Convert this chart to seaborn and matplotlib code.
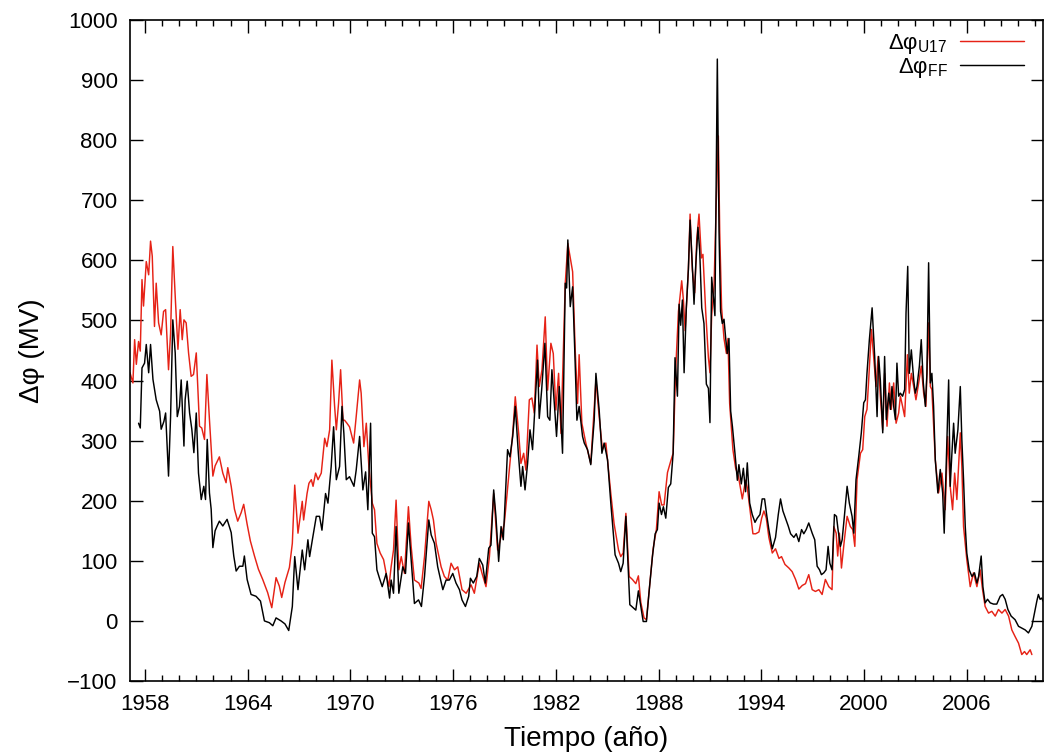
import matplotlib
matplotlib.use("Agg")
import matplotlib.pyplot as plt
import pandas as pd
import seaborn as sns
from matplotlib.ticker import MultipleLocator, FixedLocator

# ---------------- data ----------------
u17_years = [
    1957.13, 1957.30, 1957.40, 1957.50, 1957.63, 1957.73, 1957.83, 1957.92, 1958.08, 1958.22,
    1958.33, 1958.43, 1958.56, 1958.66, 1958.80, 1958.95, 1959.09, 1959.21, 1959.38, 1959.50,
    1959.63, 1959.79, 1959.93, 1960.06, 1960.18, 1960.28, 1960.41, 1960.55, 1960.70, 1960.84,
    1961.00, 1961.09, 1961.19, 1961.32, 1961.48, 1961.62, 1961.77, 1961.97, 1962.10, 1962.35,
    1962.55, 1962.74, 1962.84, 1963.04, 1963.23, 1963.42, 1963.62, 1963.77, 1963.97, 1964.16,
    1964.40, 1964.63, 1964.88, 1965.17, 1965.41, 1965.66, 1965.85, 1965.99, 1966.18, 1966.44,
    1966.61, 1966.75, 1966.94, 1967.19, 1967.27, 1967.47, 1967.58, 1967.72, 1967.82, 1967.97,
    1968.11, 1968.30, 1968.50, 1968.63, 1968.79, 1968.92, 1969.08, 1969.18, 1969.31, 1969.43,
    1969.57, 1969.66, 1969.80, 1969.95, 1970.19, 1970.34, 1970.54, 1970.63, 1970.79, 1970.93,
    1971.08, 1971.28, 1971.41, 1971.55, 1971.74, 1971.94, 1972.09, 1972.25, 1972.38, 1972.52,
    1972.67, 1972.83, 1972.97, 1973.16, 1973.39, 1973.55, 1973.74, 1974.00, 1974.13, 1974.33,
    1974.58, 1974.72, 1974.85, 1975.01, 1975.30, 1975.49, 1975.69, 1975.88, 1976.08, 1976.27,
    1976.52, 1976.76, 1977.05, 1977.24, 1977.53, 1977.69, 1977.92, 1978.12, 1978.37, 1978.60,
    1978.80, 1978.99, 1979.28, 1979.48, 1979.63, 1979.83, 1979.96, 1980.12, 1980.25, 1980.45,
    1980.60, 1980.74, 1980.90, 1981.03, 1981.19, 1981.38, 1981.52, 1981.71, 1981.85, 1982.00,
    1982.16, 1982.30, 1982.55, 1982.70, 1982.98, 1983.13, 1983.27, 1983.36, 1983.52, 1983.75,
    1984.04, 1984.34, 1984.53, 1984.72, 1984.92, 1985.21, 1985.40, 1985.66, 1985.79, 1985.93,
    1986.09, 1986.28, 1986.47, 1986.67, 1986.82, 1986.96, 1987.15, 1987.29, 1987.49, 1987.68,
    1987.87, 1988.03, 1988.18, 1988.32, 1988.52, 1988.71, 1988.85, 1989.00, 1989.16, 1989.35,
    1989.45, 1989.55, 1989.74, 1989.84, 1989.97, 1990.11, 1990.23, 1990.36, 1990.50, 1990.59,
    1990.75, 1990.91, 1991.00, 1991.10, 1991.24, 1991.37, 1991.49, 1991.57, 1991.68, 1991.82,
    1991.96, 1992.05, 1992.15, 1992.34, 1992.50, 1992.66, 1992.89, 1993.08, 1993.18, 1993.37,
    1993.51, 1993.67, 1993.86, 1994.02, 1994.15, 1994.29, 1994.44, 1994.64, 1994.83, 1995.03,
    1995.18, 1995.38, 1995.61, 1995.80, 1996.00, 1996.19, 1996.39, 1996.58, 1996.77, 1996.97,
    1997.16, 1997.36, 1997.55, 1997.74, 1997.94, 1998.13, 1998.23, 1998.37, 1998.46, 1998.56,
    1998.68, 1998.85, 1999.01, 1999.20, 1999.34, 1999.46, 1999.59, 1999.79, 1999.92, 2000.04,
    2000.17, 2000.27, 2000.43, 2000.56, 2000.70, 2000.82, 2000.95, 2001.09, 2001.20, 2001.34,
    2001.48, 2001.59, 2001.73, 2001.87, 2002.02, 2002.12, 2002.25, 2002.37, 2002.53, 2002.64,
    2002.76, 2002.90, 2003.03, 2003.19, 2003.34, 2003.48, 2003.61, 2003.77, 2003.87, 2003.96,
    2004.16, 2004.35, 2004.55, 2004.74, 2004.88, 2005.03, 2005.17, 2005.29, 2005.42, 2005.62,
    2005.71, 2005.81, 2006.00, 2006.20, 2006.39, 2006.59, 2006.78, 2006.92, 2007.07, 2007.27,
    2007.46, 2007.66, 2007.85, 2008.05, 2008.24, 2008.44, 2008.63, 2008.82, 2009.02, 2009.21,
    2009.37, 2009.50, 2009.70, 2009.80,
]
u17_values = [
    413, 396, 468, 427, 465, 449, 568, 524, 598, 576,
    632, 607, 490, 562, 496, 476, 515, 518, 418, 479,
    623, 529, 452, 518, 468, 501, 496, 446, 407, 410,
    446, 390, 324, 321, 302, 410, 335, 241, 258, 273,
    246, 230, 255, 224, 186, 166, 180, 194, 161, 133,
    108, 86, 69, 47, 22, 72, 58, 39, 64, 89,
    129, 226, 146, 199, 168, 212, 229, 235, 224, 246,
    235, 246, 304, 290, 318, 434, 357, 318, 362, 418,
    334, 334, 329, 323, 296, 340, 401, 379, 290, 329,
    257, 196, 185, 129, 113, 102, 79, 57, 90, 118,
    201, 85, 107, 79, 190, 124, 68, 63, 54, 107,
    199, 185, 168, 129, 90, 74, 68, 96, 85, 90,
    52, 46, 60, 46, 96, 79, 57, 107, 212, 118,
    140, 162, 251, 312, 373, 312, 262, 279, 251, 368,
    371, 346, 459, 390, 418, 506, 384, 462, 445, 351,
    412, 312, 562, 628, 581, 451, 362, 443, 329, 296,
    262, 401, 340, 285, 296, 212, 162, 118, 107, 113,
    179, 74, 69, 62, 75, 31, 5, 2, 62, 120,
    152, 215, 193, 193, 247, 266, 279, 419, 515, 566,
    534, 483, 585, 677, 585, 546, 636, 677, 604, 610,
    515, 438, 413, 508, 559, 699, 807, 648, 521, 470,
    445, 470, 362, 285, 254, 241, 203, 234, 222, 177,
    145, 145, 148, 171, 183, 171, 139, 113, 120, 104,
    107, 94, 88, 82, 69, 53, 59, 62, 77, 52,
    49, 52, 44, 69, 57, 52, 157, 146, 108, 146,
    88, 135, 174, 157, 152, 124, 235, 279, 285, 340,
    352, 401, 485, 440, 390, 440, 374, 318, 412, 324,
    396, 352, 396, 329, 346, 374, 357, 340, 443, 379,
    412, 390, 368, 396, 424, 379, 357, 496, 390, 385,
    268, 213, 246, 185, 307, 224, 185, 246, 202, 313,
    257, 157, 102, 57, 80, 57, 85, 52, 24, 13,
    16, 8, 19, 13, 19, 8, -15, -26, -37, -56,
    -51, -56, -48, -56,
]

ff_years = [
    1957.63, 1957.73, 1957.83, 1957.98, 1958.08, 1958.22, 1958.33, 1958.47, 1958.66, 1958.86,
    1958.95, 1959.11, 1959.21, 1959.38, 1959.50, 1959.63, 1959.77, 1959.89, 1960.02, 1960.12,
    1960.28, 1960.35, 1960.47, 1960.61, 1960.74, 1960.86, 1961.00, 1961.13, 1961.29, 1961.44,
    1961.54, 1961.64, 1961.77, 1961.87, 1961.97, 1962.10, 1962.22, 1962.35, 1962.55, 1962.80,
    1963.04, 1963.19, 1963.33, 1963.52, 1963.72, 1963.81, 1963.97, 1964.20, 1964.49, 1964.75,
    1964.98, 1965.27, 1965.47, 1965.66, 1965.95, 1966.18, 1966.40, 1966.61, 1966.75, 1966.94,
    1967.19, 1967.33, 1967.52, 1967.62, 1967.78, 1968.01, 1968.20, 1968.34, 1968.55, 1968.69,
    1968.88, 1969.02, 1969.18, 1969.37, 1969.51, 1969.62, 1969.76, 1969.95, 1970.21, 1970.34,
    1970.54, 1970.73, 1970.89, 1971.02, 1971.18, 1971.28, 1971.41, 1971.55, 1971.70, 1971.86,
    1972.09, 1972.29, 1972.38, 1972.52, 1972.67, 1972.83, 1973.06, 1973.22, 1973.39, 1973.55,
    1973.74, 1973.98, 1974.15, 1974.33, 1974.58, 1974.72, 1974.91, 1975.10, 1975.40, 1975.59,
    1975.78, 1975.98, 1976.17, 1976.37, 1976.52, 1976.72, 1976.91, 1977.01, 1977.18, 1977.38,
    1977.53, 1977.73, 1977.88, 1978.08, 1978.21, 1978.37, 1978.50, 1978.66, 1978.80, 1978.93,
    1979.18, 1979.32, 1979.48, 1979.63, 1979.81, 1979.96, 1980.06, 1980.20, 1980.35, 1980.49,
    1980.64, 1980.84, 1980.93, 1981.03, 1981.17, 1981.36, 1981.52, 1981.65, 1981.77, 1981.91,
    1982.04, 1982.20, 1982.39, 1982.55, 1982.63, 1982.70, 1982.84, 1982.98, 1983.11, 1983.23,
    1983.36, 1983.56, 1983.66, 1983.85, 1984.04, 1984.24, 1984.34, 1984.53, 1984.69, 1984.82,
    1985.02, 1985.21, 1985.46, 1985.66, 1985.79, 1985.93, 1986.09, 1986.32, 1986.67, 1986.82,
    1986.96, 1987.10, 1987.29, 1987.45, 1987.64, 1987.80, 1987.93, 1988.03, 1988.17, 1988.28,
    1988.42, 1988.57, 1988.71, 1988.85, 1988.96, 1989.10, 1989.20, 1989.29, 1989.39, 1989.49,
    1989.62, 1989.74, 1989.84, 1989.97, 1990.07, 1990.17, 1990.30, 1990.40, 1990.52, 1990.65,
    1990.79, 1990.91, 1991.00, 1991.10, 1991.18, 1991.29, 1991.37, 1991.43, 1991.53, 1991.62,
    1991.72, 1991.82, 1991.92, 1992.01, 1992.11, 1992.21, 1992.31, 1992.46, 1992.60, 1992.69,
    1992.83, 1992.95, 1993.08, 1993.18, 1993.32, 1993.47, 1993.63, 1993.76, 1993.92, 1994.05,
    1994.19, 1994.31, 1994.44, 1994.64, 1994.83, 1994.99, 1995.12, 1995.26, 1995.41, 1995.57,
    1995.71, 1995.90, 1996.04, 1996.19, 1996.35, 1996.48, 1996.62, 1996.77, 1996.97, 1997.12,
    1997.26, 1997.40, 1997.51, 1997.65, 1997.78, 1997.90, 1998.00, 1998.13, 1998.27, 1998.39,
    1998.48, 1998.62, 1998.72, 1998.85, 1999.01, 1999.14, 1999.30, 1999.40, 1999.53, 1999.69,
    1999.84, 1999.98, 2000.08, 2000.17, 2000.31, 2000.47, 2000.62, 2000.76, 2000.85, 2000.95,
    2001.09, 2001.20, 2001.30, 2001.44, 2001.54, 2001.63, 2001.73, 2001.83, 2001.92, 2002.02,
    2002.12, 2002.25, 2002.37, 2002.45, 2002.55, 2002.64, 2002.76, 2002.90, 2002.99, 2003.09,
    2003.23, 2003.34, 2003.46, 2003.58, 2003.67, 2003.77, 2003.87, 2003.96, 2004.06, 2004.16,
    2004.31, 2004.45, 2004.59, 2004.68, 2004.78, 2004.94, 2005.03, 2005.13, 2005.23, 2005.32,
    2005.48, 2005.62, 2005.71, 2005.81, 2005.91, 2006.00, 2006.14, 2006.30, 2006.45, 2006.59,
    2006.69, 2006.84, 2006.94, 2007.07, 2007.21, 2007.37, 2007.56, 2007.75, 2007.95, 2008.09,
    2008.24, 2008.40, 2008.59, 2008.82, 2009.02, 2009.21, 2009.41, 2009.60, 2009.80, 2009.99,
    2010.09, 2010.18, 2010.28, 2010.38, 2010.45,
]
ff_values = [
    329, 321, 421, 429, 460, 413, 460, 402, 368, 349,
    319, 332, 346, 241, 340, 501, 446, 340, 357, 401,
    291, 368, 399, 346, 319, 280, 346, 246, 202, 224,
    202, 302, 213, 186, 122, 150, 158, 166, 158, 169,
    147, 108, 83, 91, 91, 108, 69, 44, 41, 33,
    0, -3, -8, 5, 0, -5, -16, 24, 107, 52,
    118, 85, 135, 107, 135, 174, 174, 151, 212, 196,
    257, 323, 235, 257, 357, 312, 235, 240, 224, 251,
    307, 218, 248, 185, 329, 146, 140, 85, 71, 57,
    79, 38, 68, 46, 157, 46, 90, 79, 163, 102,
    29, 35, 24, 74, 168, 143, 129, 90, 52, 68,
    68, 79, 63, 52, 35, 24, 41, 71, 63, 74,
    104, 93, 63, 121, 126, 218, 174, 99, 157, 135,
    285, 273, 307, 357, 279, 224, 257, 218, 262, 318,
    285, 390, 434, 337, 384, 462, 340, 334, 418, 362,
    307, 390, 279, 562, 554, 634, 523, 556, 445, 334,
    357, 307, 296, 285, 260, 334, 412, 351, 279, 296,
    268, 196, 110, 96, 82, 96, 174, 27, 18, 50,
    24, -1, -1, 50, 107, 145, 152, 196, 177, 190,
    171, 222, 228, 279, 438, 374, 527, 492, 534, 413,
    521, 585, 667, 591, 527, 591, 655, 616, 521, 495,
    394, 387, 330, 572, 546, 508, 763, 935, 648, 515,
    495, 502, 470, 445, 470, 349, 324, 279, 234, 260,
    228, 254, 215, 263, 196, 177, 164, 171, 177, 203,
    203, 177, 152, 120, 139, 177, 203, 183, 171, 158,
    145, 139, 145, 132, 152, 145, 152, 163, 146, 135,
    91, 85, 77, 80, 85, 124, 96, 85, 177, 174,
    152, 124, 135, 174, 224, 196, 174, 146, 235, 274,
    313, 363, 368, 412, 468, 521, 440, 340, 440, 401,
    313, 440, 335, 379, 352, 390, 357, 335, 429, 374,
    379, 374, 385, 512, 590, 412, 451, 401, 379, 390,
    424, 468, 396, 357, 412, 596, 396, 412, 357, 268,
    213, 252, 213, 146, 246, 401, 224, 279, 329, 279,
    318, 390, 302, 235, 157, 113, 85, 74, 80, 63,
    74, 108, 57, 30, 36, 30, 28, 28, 41, 44,
    36, 19, 8, 2, -9, -12, -15, -20, -9, 19,
    33, 44, 36, 38, 33,
]

x_major_ticks = [1958, 1964, 1970, 1976, 1982, 1988, 1994, 2000, 2006]
y_ticks = [-100, 0, 100, 200, 300, 400, 500, 600, 700, 800, 900, 1000]
label_u17 = r"Δφ$_{\mathregular{U17}}$"
label_ff = r"Δφ$_{\mathregular{FF}}$"
x_label = "Tiempo (año)"
y_label = "Δφ (MV)"

# ---------------- style ----------------
sns.set_style("ticks")
plt.rcParams["font.family"] = ["Liberation Sans", "DejaVu Sans"]
plt.rcParams["mathtext.fontset"] = "custom"
plt.rcParams["mathtext.rm"] = "Liberation Sans"
plt.rcParams["mathtext.it"] = "Liberation Sans:italic"
plt.rcParams["mathtext.bf"] = "Liberation Sans:bold"
plt.rcParams["axes.unicode_minus"] = True
plt.rcParams["text.color"] = "black"
plt.rcParams["axes.labelcolor"] = "black"

fig = plt.figure(figsize=(10.45, 7.56), dpi=100)
ax = fig.add_axes([130 / 1045, 1 - 681 / 756, (1043 - 130) / 1045, (681 - 20) / 756])

df_u17 = pd.DataFrame({"t": u17_years, "v": u17_values})
df_ff = pd.DataFrame({"t": ff_years, "v": ff_values})

sns.lineplot(data=df_u17, x="t", y="v", ax=ax, color="#e62216", linewidth=1.05,
             estimator=None, sort=False, label=label_u17)
sns.lineplot(data=df_ff, x="t", y="v", ax=ax, color="black", linewidth=1.05,
             estimator=None, sort=False, label=label_ff)

ax.set_xlim(min(u17_years + ff_years), max(u17_years + ff_years))
ax.set_ylim(y_ticks[0], y_ticks[-1])
ax.xaxis.set_major_locator(FixedLocator(x_major_ticks))
ax.xaxis.set_minor_locator(MultipleLocator(1))
ax.yaxis.set_major_locator(FixedLocator(y_ticks))

ax.tick_params(which="both", direction="in", top=True, right=True, width=1.0,
               colors="black", labelsize=16)
ax.tick_params(which="major", length=9)
ax.tick_params(which="minor", length=4.5)
ax.tick_params(axis="x", pad=9)
ax.tick_params(axis="y", pad=9)

for sp in ax.spines.values():
    sp.set_visible(True)
    sp.set_linewidth(1.2)
    sp.set_color("black")

ax.set_xlabel(x_label, fontsize=20, labelpad=8, color="black")
ax.set_ylabel(y_label, fontsize=20, labelpad=16, color="black")

leg = ax.legend(loc="upper right", bbox_to_anchor=(1.0, 1.0 + 7 / 661),
                frameon=False, markerfirst=False,
                handlelength=2.9, handletextpad=0.55, fontsize=16,
                labelspacing=0.0, borderaxespad=0.65, borderpad=0.2)

fig.savefig("out.png", dpi=100)
